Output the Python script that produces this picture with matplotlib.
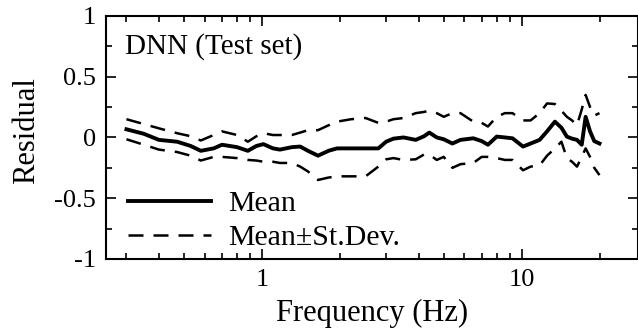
import matplotlib.pyplot as plt
from matplotlib.ticker import FixedLocator, NullFormatter

plt.rcParams['font.family'] = ['Liberation Serif', 'DejaVu Serif']

# frequency (Hz) and residual curves
freq = [0.30, 0.35, 0.40, 0.47, 0.53, 0.58, 0.65, 0.70, 0.80, 0.88,
        0.95, 1.01, 1.10, 1.17, 1.30, 1.40, 1.50, 1.64, 1.80, 1.94,
        2.2, 2.5, 2.8, 3.0, 3.2, 3.5, 3.9, 4.2, 4.4, 4.7,
        5.0, 5.4, 5.8, 6.5, 7.0, 7.4, 8.0, 8.6, 9.2, 10.1,
        10.8, 11.7, 12.5, 13.4, 14.2, 14.9, 15.6, 16.3, 17.0, 17.6,
        18.3, 19.0, 19.9]
mean = [0.067, 0.03, -0.02, -0.035, -0.07, -0.11, -0.09, -0.06, -0.08, -0.11,
        -0.07, -0.055, -0.09, -0.10, -0.08, -0.075, -0.11, -0.15, -0.11, -0.09,
        -0.09, -0.09, -0.09, -0.035, -0.01, 0.0, -0.02, 0.01, 0.04, 0.0,
        -0.015, -0.05, -0.02, -0.007, -0.03, -0.06, 0.007, 0.0, -0.007, -0.075,
        -0.05, -0.02, 0.05, 0.13, 0.08, 0.007, -0.01, -0.02, -0.06, 0.17,
        0.05, -0.03, -0.05]
upper = [0.15, 0.11, 0.075, 0.035, 0.01, -0.025, 0.02, 0.05, 0.02, -0.035,
         0.01, 0.035, 0.02, 0.02, 0.02, 0.04, 0.06, 0.06, 0.10, 0.13,
         0.15, 0.16, 0.12, 0.13, 0.15, 0.16, 0.20, 0.21, 0.22, 0.20,
         0.17, 0.20, 0.20, 0.13, 0.12, 0.09, 0.17, 0.20, 0.20, 0.14,
         0.14, 0.20, 0.28, 0.275, 0.22, 0.17, 0.14, 0.10, 0.23, 0.35,
         0.25, 0.18, 0.20]
lower = [-0.015, -0.06, -0.10, -0.12, -0.15, -0.19, -0.16, -0.16, -0.17, -0.185,
         -0.19, -0.20, -0.20, -0.21, -0.21, -0.24, -0.28, -0.35, -0.33, -0.32,
         -0.32, -0.32, -0.24, -0.18, -0.17, -0.185, -0.18, -0.14, -0.14, -0.185,
         -0.16, -0.25, -0.22, -0.21, -0.16, -0.16, -0.17, -0.185, -0.185, -0.27,
         -0.24, -0.23, -0.15, -0.09, -0.035, -0.17, -0.20, -0.24, -0.16, -0.09,
         -0.16, -0.25, -0.31]

yticks = [-1, -0.5, 0, 0.5, 1]
ytick_labels = ['-1', '-0.5', '0', '0.5', '1']

fig = plt.figure(figsize=(6.38, 3.32), dpi=100)
ax = fig.add_axes([0.166, 0.22, 0.834, 0.732])

ax.plot(freq, mean, color='black', lw=2.8, label='Mean')
ax.plot(freq, upper, color='black', lw=1.8, dashes=(6, 4), label='Mean\u00b1St.Dev.')
ax.plot(freq, lower, color='black', lw=1.8, dashes=(6, 4))

ax.set_xscale('log')
ax.set_xlim(0.25, 28)
ax.set_ylim(-1, 1)
ax.set_xticks([1, 10])
ax.set_xticklabels(['1', '10'])
ax.xaxis.set_minor_locator(FixedLocator([0.3, 0.4, 0.5, 0.6, 0.7, 0.8, 0.9,
                                         2, 3, 4, 5, 6, 7, 8, 9, 20]))
ax.xaxis.set_minor_formatter(NullFormatter())
ax.set_yticks(yticks)
ax.set_yticklabels(ytick_labels)
ax.yaxis.set_minor_locator(FixedLocator([-0.75, -0.25, 0.25, 0.75]))

for s in ax.spines.values():
    s.set_linewidth(1.5)
ax.tick_params(which='both', direction='in', top=True, right=True,
               labelsize=19, width=1.2, pad=7)
ax.tick_params(which='major', length=7)
ax.tick_params(which='minor', length=4)

ax.set_xlabel('Frequency (Hz)', fontsize=22, labelpad=6)
ax.set_ylabel('Residual', fontsize=22)
ax.yaxis.set_label_coords(-0.122, 0.527)

ax.text(0.035, 0.93, 'DNN (Test set)', transform=ax.transAxes,
        fontsize=21, va='top', ha='left')

ax.legend(loc='lower left', bbox_to_anchor=(0.003, -0.055), frameon=False,
          fontsize=21.5, handlelength=2.75, handletextpad=0.6,
          labelspacing=0.25, borderaxespad=0.3)

fig.savefig('out.png', dpi=100)
